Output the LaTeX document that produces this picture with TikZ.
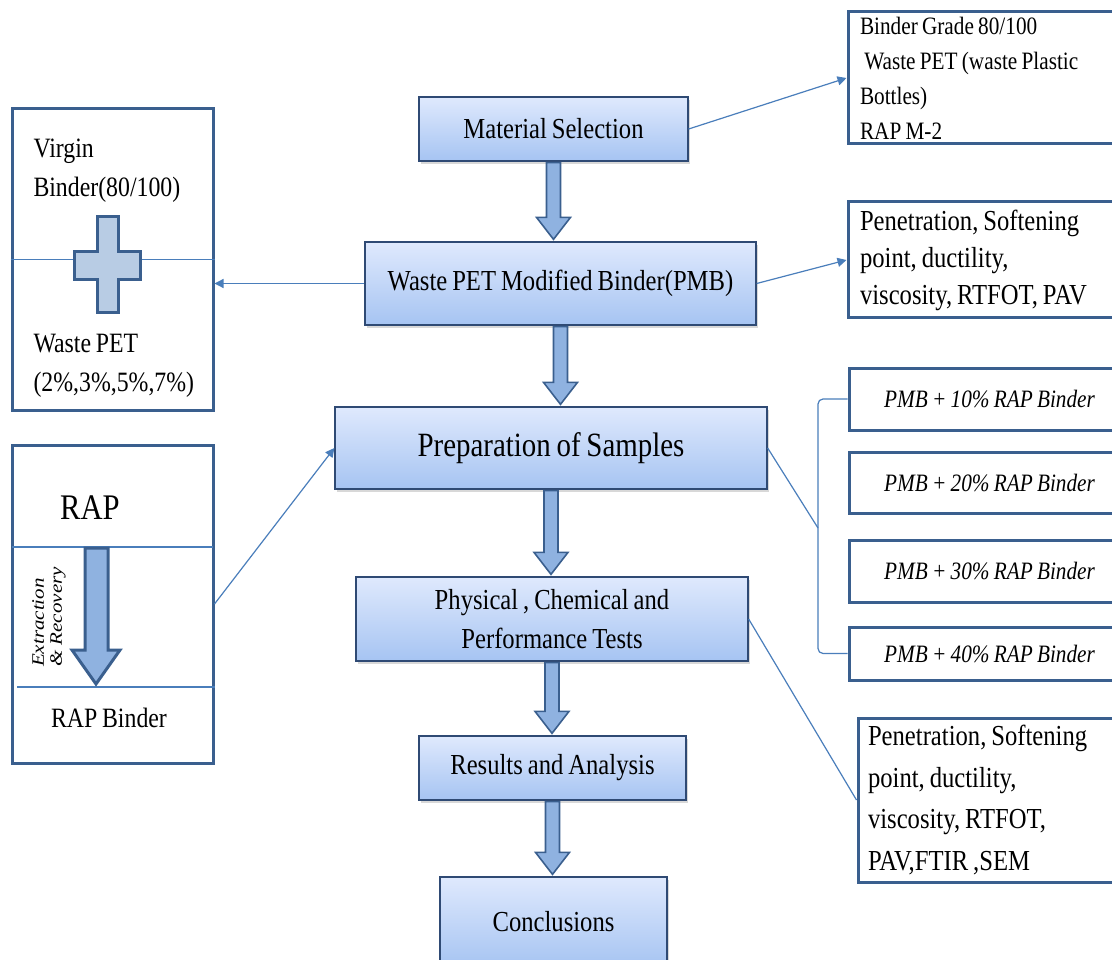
\documentclass[tikz,border=0pt]{standalone}
\usepackage{fontspec}
\setmainfont{Liberation Serif}[FakeStretch=0.85,WordSpace=0.8]
\newfontfamily\widefont{Liberation Serif}[FakeStretch=1.2]
\usetikzlibrary{arrows.meta,calc,shadows}

\definecolor{stagetop}{HTML}{DFE9FD}
\definecolor{stagebot}{HTML}{A6C4F2}
\definecolor{stageedge}{HTML}{2F4A74}
\definecolor{sideedge}{HTML}{3A5F8E}
\definecolor{arrowfill}{HTML}{8FB2E0}
\definecolor{linkblue}{HTML}{4A7EBB}
\definecolor{plusfill}{HTML}{B8CCE4}

\tikzset{
every picture/.style={
line width=1pt
},
stage/.style={draw=stageedge, line width=1.3pt, top color=stagetop, bottom color=stagebot,
  drop shadow={opacity=0.3, shadow xshift=1.5pt, shadow yshift=-3pt},
  align=center, inner sep=0pt, font=\fontsize{29}{39}\selectfont},
sidebox/.style={draw=sideedge, line width=3pt, inner sep=0pt},
rbox/.style={sidebox, anchor=north west, align=flush left, inner xsep=12pt, text width=258pt},
link/.style={draw=linkblue, line width=1.2pt},
tip/.style={-{Triangle[length=9pt,width=9pt]}},
blockarr/.style={draw=sideedge, line width=1.6pt, fill=arrowfill, line join=miter}
}

\begin{document}
\begin{tikzpicture}[x=1pt,y=-1pt]
\clip (0,0) rectangle (1112,960);
\fill[white] (0,0) rectangle (1112,960);

% main column
\node[stage, minimum width=269pt, minimum height=64pt] (matsel) at (553.5,129) {Material Selection};
\node[stage, minimum width=391pt, minimum height=83pt] (pmb) at (560.5,283.5) {Waste PET Modified Binder(PMB)};
\node[stage, minimum width=432pt, minimum height=82pt, font=\fontsize{34}{40}\selectfont] (prep) at (551,448) {Preparation of Samples};
\node[stage, minimum width=392pt, minimum height=84pt] (phys) at (552,619) {Physical , Chemical and\\Performance Tests};
\node[stage, minimum width=267pt, minimum height=64pt] (res) at (552.5,768) {Results and Analysis};
\node[stage, minimum width=227pt, minimum height=90pt] (concl) at (553.5,922) {Conclusions};

\foreach \a/\b/\dx in {matsel/pmb/0, pmb/prep/-13, prep/phys/-7, phys/res/-8, res/concl/-10}{
  \draw[blockarr, xshift=\dx pt] let \p1=(\a.south), \p2=(\b.north) in
    (\x1-7pt,\y1-1pt) -- (\x1-7pt,\y2+24pt) -- (\x1-17pt,\y2+24pt) -- (\x1,\y2+2pt)
    -- (\x1+17pt,\y2+24pt) -- (\x1+7pt,\y2+24pt) -- (\x1+7pt,\y1-1pt) -- cycle;
}

% left: virgin binder + waste PET
\node[sidebox, minimum width=201pt, minimum height=301pt] (virgin) at (112.5,259.5) {};
\draw[link] (virgin.west) -- (virgin.east);
\draw[blockarr, draw=sideedge, line width=3pt, fill=plusfill]
  (97,217) -- (118,217) -- (118,252) -- (140,252) -- (140,280) -- (118,280) -- (118,313)
  -- (97,313) -- (97,280) -- (74,280) -- (74,252) -- (97,252) -- cycle;
\node[anchor=west, align=left, inner sep=0pt, font=\fontsize{28}{39}\selectfont] (vtop) at (33,171) {Virgin\\Binder(80/100)};
\node[anchor=west, align=left, inner sep=0pt, font=\fontsize{28}{39}\selectfont] (vbot) at (33,366) {Waste PET\\(2\%,3\%,5\%,7\%)};

% left: RAP
\node[sidebox, minimum width=201pt, minimum height=318pt] (rap) at (112.5,604) {};
\draw[link, line width=2.5pt] (12,547) -- (213,547);
\draw[link, line width=2.5pt] (17,687) -- (215,687);
\draw[blockarr, line width=3pt] (85,548) -- (85,650) -- (72,650) -- (96,684) -- (120,650) -- (108,650) -- (108,548) -- cycle;
\node[font=\fontsize{36}{40}\selectfont] (raptop) at (90,508) {RAP};
\node[font=\fontsize{28}{32}\selectfont] (rapbin) at (109,718) {RAP Binder};
\node[rotate=90, align=left, inner sep=0pt, font=\widefont\itshape\fontsize{17.5}{18}\selectfont] (extr) at (49,617) {Extraction\\\& Recovery};

% right: materials and tests
\node[rbox, minimum height=132pt, font=\fontsize{25}{35}\selectfont] (matbox) at (846.5,10.5)
  {Binder Grade 80/100\\\ Waste PET (waste Plastic\\Bottles)\\RAP M-2};
\node[rbox, minimum height=116pt, font=\fontsize{29}{37}\selectfont] (pmbbox) at (846.5,200.5)
  {Penetration, Softening\\point, ductility,\\viscosity, RTFOT, PAV};
\node[rbox, inner xsep=10pt, text width=252pt, minimum height=164pt, font=\fontsize{29}{41.5}\selectfont] (testbox) at (856.5,716.5)
  {Penetration, Softening\\point, ductility,\\viscosity, RTFOT,\\PAV,FTIR ,SEM};

% right: sample mixes
\foreach \p/\y/\h [count=\i] in {10/399/62, 20/482.5/61, 30/571/62, 40/653.5/53}{
  \node[sidebox, minimum width=281pt, minimum height=\h pt, font=\itshape\fontsize{25}{30}\selectfont] (r\i) at (989.5,\y) {PMB + \p\% RAP Binder};
}
\coordinate (brk) at (818,528);

% connectors
\draw[link, tip] (matsel.east) -- (matbox.west);
\draw[link, tip] (pmb.east) -- (pmbbox.west);
\draw[link, tip] (pmb.west) -- (pmb.west -| virgin.east);
\draw[link, tip] (rap.east) -- (prep.west);
\draw[link] (prep.east) -- (brk);
\draw[link, rounded corners=5pt] (r1.west) -- (r1.west -| brk) |- (r4.west);
\draw[link] (phys.east) -- (testbox.west);
\end{tikzpicture}
\end{document}
